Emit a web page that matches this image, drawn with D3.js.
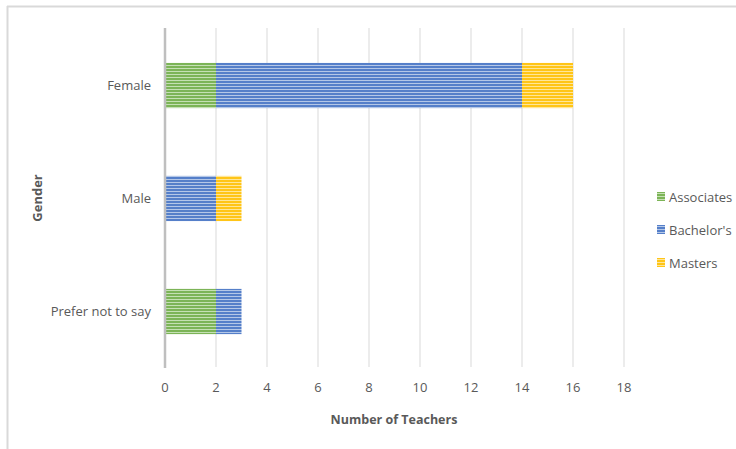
<!DOCTYPE html>
<html>
<head>
<meta charset="utf-8">
<script src="https://cdn.jsdelivr.net/npm/d3@7"></script>
<style>
body { margin: 0; background: #fff; }
svg text { font-family: "Liberation Sans Narrow", "Open Sans", sans-serif; fill: #595959; }
</style>
</head>
<body>
<svg width="736" height="449"></svg>
<script>
// data
var categories = ["Female", "Male", "Prefer not to say"];
var seriesNames = ["Associates", "Bachelor's", "Masters"];
var associates = [2, 0, 2];
var bachelors = [12, 2, 1];
var masters = [2, 1, 0];
var xTicks = [0, 2, 4, 6, 8, 10, 12, 14, 16, 18];

var colors = {"Associates": ["#70ad47", "#c5e0b4"], "Bachelor's": ["#4472c4", "#b4c7e7"], "Masters": ["#ffc000", "#ffe699"]};

var svg = d3.select("svg");

// outer frame (top and left only visible)
svg.append("line").attr("x1", 7).attr("x2", 736).attr("y1", 6.5).attr("y2", 6.5)
    .attr("stroke", "#d9d9d9").attr("stroke-width", 2);
svg.append("line").attr("x1", 7.5).attr("x2", 7.5).attr("y1", 6).attr("y2", 449)
    .attr("stroke", "#d9d9d9").attr("stroke-width", 2);

// stripe patterns
var defs = svg.append("defs");
seriesNames.forEach(function(s, i) {
  var p = defs.append("pattern").attr("id", "pat" + i)
      .attr("patternUnits", "userSpaceOnUse").attr("width", 6).attr("height", 3);
  p.append("rect").attr("width", 6).attr("height", 3).attr("fill", colors[s][1]);
  p.append("rect").attr("width", 6).attr("height", 2).attr("fill", colors[s][0]).attr("opacity", 0.85);
});

var x = d3.scaleLinear().domain([0, 18]).range([165, 624]);
var y = d3.scaleBand().domain(categories).range([28, 367]).paddingInner(0.6).paddingOuter(0.3);

// gridlines
svg.append("g").selectAll("line").data(xTicks.slice(1)).enter().append("line")
    .attr("x1", function(d) { return x(d); }).attr("x2", function(d) { return x(d); })
    .attr("y1", 28).attr("y2", 367)
    .attr("stroke", "#d9d9d9").attr("stroke-width", 1);

// stacked bars
var table = categories.map(function(c, i) {
  return {cat: c, "Associates": associates[i], "Bachelor's": bachelors[i], "Masters": masters[i]};
});
var stacked = d3.stack().keys(seriesNames)(table);

svg.append("g").selectAll("g").data(stacked).enter().append("g")
    .attr("fill", function(d, i) { return "url(#pat" + i + ")"; })
  .selectAll("rect").data(function(d) { return d; }).enter().append("rect")
    .attr("x", function(d) { return x(d[0]); })
    .attr("y", function(d) { return y(d.data.cat) + 1; })
    .attr("width", function(d) { return x(d[1]) - x(d[0]); })
    .attr("height", y.bandwidth());

// y axis line
svg.append("line").attr("x1", 165).attr("x2", 165).attr("y1", 28).attr("y2", 368)
    .attr("stroke", "#bfbfbf").attr("stroke-width", 2.5);

// y labels
svg.append("g").selectAll("text").data(categories).enter().append("text")
    .attr("x", 151).attr("y", function(d) { return y(d) + y.bandwidth() / 2 + 1; })
    .attr("dy", "0.35em").attr("text-anchor", "end").attr("font-size", 13)
    .text(function(d) { return d; });

// x labels
svg.append("g").selectAll("text").data(xTicks).enter().append("text")
    .attr("x", function(d) { return x(d); }).attr("y", 392)
    .attr("text-anchor", "middle").attr("font-size", 13)
    .text(function(d) { return d; });

// axis titles
svg.append("text").attr("x", 394).attr("y", 424).attr("text-anchor", "middle")
    .attr("font-size", 12.5).attr("font-weight", "bold").text("Number of Teachers");
svg.append("text").attr("transform", "translate(42,198) rotate(-90)")
    .attr("text-anchor", "middle").attr("font-size", 13).attr("font-weight", "bold").text("Gender");

// legend
var legend = svg.append("g").selectAll("g").data(seriesNames).enter().append("g")
    .attr("transform", function(d, i) { return "translate(657," + (197 + i * 33) + ")"; });
legend.append("rect").attr("x", 0).attr("y", -5).attr("width", 8).attr("height", 9)
    .attr("fill", function(d, i) { return "url(#pat" + i + ")"; });
legend.append("text").attr("x", 12).attr("dy", "0.35em").attr("font-size", 13)
    .text(function(d) { return d; });
</script>
</body>
</html>
